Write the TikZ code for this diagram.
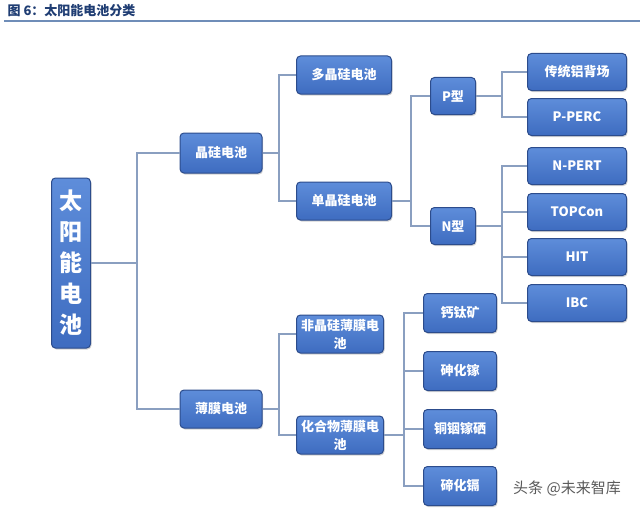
\documentclass[tikz,border=0pt]{standalone}
\usepackage{fontspec}
\setmainfont{Noto Sans CJK SC}
\usetikzlibrary{positioning,shadows}
\definecolor{boxtop}{HTML}{5E8DDA}
\definecolor{boxbot}{HTML}{3E6CC0}
\definecolor{boxedge}{HTML}{2C4C8C}
\definecolor{linkc}{HTML}{8A9FC0}
\definecolor{titleblue}{HTML}{1F3D73}
\definecolor{rulec}{HTML}{6F8DB8}
\tikzset{
	catbox/.style={rectangle, draw=boxedge, line width=1pt, rounded corners=4pt,
		top color=boxtop, bottom color=boxbot, text=white, align=center,
		font=\fontsize{13}{18}\selectfont\bfseries, minimum height=37pt, inner sep=2pt,
		drop shadow={shadow xshift=1pt, shadow yshift=-1.5pt, opacity=0.35}},
	linkline/.style={draw=linkc, line width=1.2pt}
}
\begin{document}
\begin{tikzpicture}[x=1pt, y=-1pt,
		node distance=7pt,
		leafbox/.style={catbox, minimum width=99pt},
		filmbox/.style={catbox, minimum width=73pt, minimum height=39pt}
	]
	\useasboundingbox (0,0) rectangle (640,511);
	% title
	\node[anchor=west, font=\fontsize{13}{15}\selectfont\bfseries, text=titleblue] (title) at (4,11) {图 6：太阳能电池分类};
	\draw[rulec, line width=1.5pt] (4,21) -- (640,21);
	% bars
	\coordinate (barA) at (137,0);
	\coordinate (barB) at (279,0);
	\coordinate (barC) at (411,0);
	\coordinate (barD) at (502,0);
	\coordinate (barE) at (404,0);
	% nodes
	\node[catbox, minimum width=39pt, minimum height=170pt, font=\fontsize{23}{31}\selectfont\bfseries] (root) at (71,263) {太\\阳\\能\\电\\池};
	\node[catbox, minimum width=82pt, minimum height=40pt] (jg) at (221,153) {晶硅电池};
	\node[catbox, minimum width=82pt, minimum height=38pt] (bm) at (221,409) {薄膜电池};
	\node[catbox, minimum width=95pt, minimum height=38pt] (dj) at (344,75) {多晶硅电池};
	\node[catbox, minimum width=95pt, minimum height=38pt] (dan) at (344,201) {单晶硅电池};
	\node[catbox, minimum width=45pt] (ptype) at (453,96) {P型};
	\node[catbox, minimum width=45pt] (ntype) at (453,226) {N型};
	\node[leafbox] (lbsf) at (577,72) {传统铝背场};
	\node[leafbox, below=of lbsf] (pperc) {P-PERC};
	\node[leafbox] (npert) at (577,166) {N-PERT};
	\node[leafbox, below=8pt of npert] (topcon) {TOPCon};
	\node[leafbox, below=of topcon] (hit) {HIT};
	\node[leafbox, below=8pt of hit] (ibc) {IBC};
	\node[catbox, minimum width=87pt, minimum height=38pt] (fj) at (340,334) {非晶硅薄膜电\\池};
	\node[catbox, minimum width=87pt, minimum height=38pt] (hhw) at (340,435) {化合物薄膜电\\池};
	\node[filmbox] (gtk) at (460,313) {钙钛矿};
	\node[filmbox, below=18pt of gtk] (shj) {砷化镓};
	\node[filmbox, below=18pt of shj] (tyjx) {铜铟镓硒};
	\node[filmbox, below=17pt of tyjx] (thg) {碲化镉};
	% connectors
	\draw[linkline] (root.east) -- (root.east -| barA) |- (jg.west);
	\draw[linkline] (root.east -| barA) |- (bm.west);
	\draw[linkline] (jg.east) -- (jg.east -| barB) |- (dj.west);
	\draw[linkline] (jg.east -| barB) |- (dan.west);
	\draw[linkline] (dan.east) -- (dan.east -| barC) |- (ptype.west);
	\draw[linkline] (dan.east -| barC) |- (ntype.west);
	\draw[linkline] (ptype.east) -- (ptype.east -| barD) |- (lbsf.west);
	\draw[linkline] (ptype.east -| barD) |- (pperc.west);
	\draw[linkline] (ntype.east) -- (ntype.east -| barD);
	\foreach \leaf in {npert,topcon,hit,ibc}
		\draw[linkline] (ntype.east -| barD) |- (\leaf.west);
	\draw[linkline] (bm.east) -- (bm.east -| barB) |- (fj.west);
	\draw[linkline] (bm.east -| barB) |- (hhw.west);
	\draw[linkline] (hhw.east) -- (hhw.east -| barE);
	\foreach \leaf in {gtk,shj,tyjx,thg}
		\draw[linkline] (hhw.east -| barE) |- (\leaf.west);
	% watermark
	\node[font=\fontsize{15}{17}\selectfont, text=black!65] (mark) at (567,488) {头条 @未来智库};
\end{tikzpicture}
\end{document}
